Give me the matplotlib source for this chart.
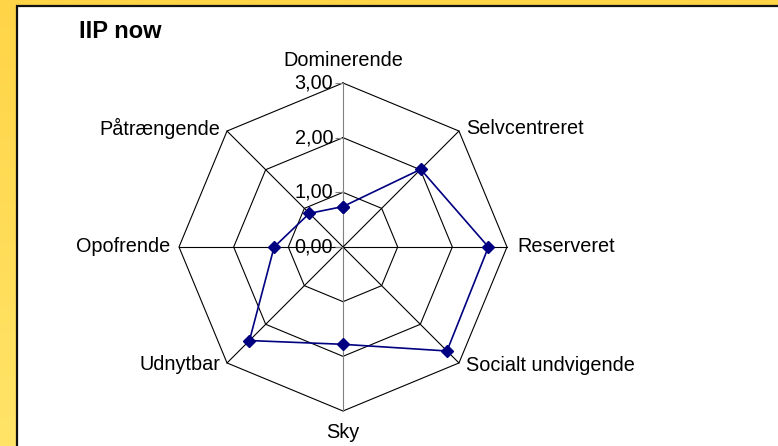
import matplotlib.pyplot as plt
import numpy as np
from matplotlib.patches import Rectangle

plt.rcParams['font.family'] = ['Liberation Sans', 'DejaVu Sans']

# data, clockwise from the top
categories = ['Dominerende', 'Selvcentreret', 'Reserveret', 'Socialt undvigende',
              'Sky', 'Udnytbar', 'Opofrende', 'Påtrængende']
values = [0.74, 2.01, 2.66, 2.69, 1.78, 2.42, 1.26, 0.87]
levels = [0, 1, 2, 3]
level_labels = ['0,00', '1,00', '2,00', '3,00']
title = 'IIP now'


def main():
    fig = plt.figure(figsize=(7.78, 4.46), dpi=100)

    # yellow frame with gradient on the left side
    bg = fig.add_axes([0, 0, 1, 1])
    bg.set_axis_off()
    grad = np.linspace(0, 1, 256).reshape(-1, 1)
    top = np.array([255, 212, 71]) / 255
    bot = np.array([255, 228, 104]) / 255
    img = top + (bot - top) * grad[:, :, None]
    bg.imshow(img, extent=[0, 1, 0, 1], aspect='auto', origin='upper')
    bg.add_patch(Rectangle((17 / 778, -0.01), 1.0, 1 - 6 / 446 + 0.01,
                           facecolor='white', edgecolor='#111111', lw=1.6))
    bg.set_xlim(0, 1)
    bg.set_ylim(0, 1)

    fig.text(79 / 778, 1 - 32 / 446, title, fontsize=17, fontweight='bold',
             va='center', ha='left')

    # radar area
    cx, cy, rad = 343, 446 - 247, 164
    ax = fig.add_axes([(cx - rad) / 778, (cy - rad) / 446, 2 * rad / 778, 2 * rad / 446],
                      projection='polar')
    ax.set_theta_zero_location('N')
    ax.set_theta_direction(-1)
    ax.set_ylim(0, 3)
    ax.set_axis_off()

    n = len(categories)
    theta = np.arange(n) * 2 * np.pi / n
    theta_c = np.append(theta, theta[0])

    for lv in levels[1:]:
        ax.plot(theta_c, [lv] * (n + 1), color='black', lw=0.8, clip_on=False)
    for i, t in enumerate(theta):
        col = '#808080' if i in (0, 4) else 'black'
        ax.plot([t, t], [0, 3], color=col, lw=0.8, clip_on=False)

    ax.plot(np.zeros(len(levels)), levels, ls='none', marker=0, ms=6,
            mew=0.8, color='#808080', clip_on=False)
    for lv, lab in zip(levels, level_labels):
        ax.annotate(lab, (0, lv), xytext=(-10, 0), textcoords='offset pixels',
                    ha='right', va='center', fontsize=14.3)

    vals_c = np.append(values, values[0])
    ax.plot(theta_c, vals_c, color='#000080', lw=1.2, marker='D', ms=6,
            clip_on=False, zorder=5)

    offsets = [(0, 23, 'center'), (7, 3, 'left'), (10, 0, 'left'), (7, -3, 'left'),
               (0, -22, 'center'), (-7, -2, 'right'), (-9, 0, 'right'), (-7, 3, 'right')]
    for t, lab, (dx, dy, ha) in zip(theta, categories, offsets):
        ax.annotate(lab, (t, 3), xytext=(dx, dy), textcoords='offset pixels',
                    ha=ha, va='center', fontsize=14.3)

    fig.savefig('out.png', dpi=100)


if __name__ == '__main__':
    main()
